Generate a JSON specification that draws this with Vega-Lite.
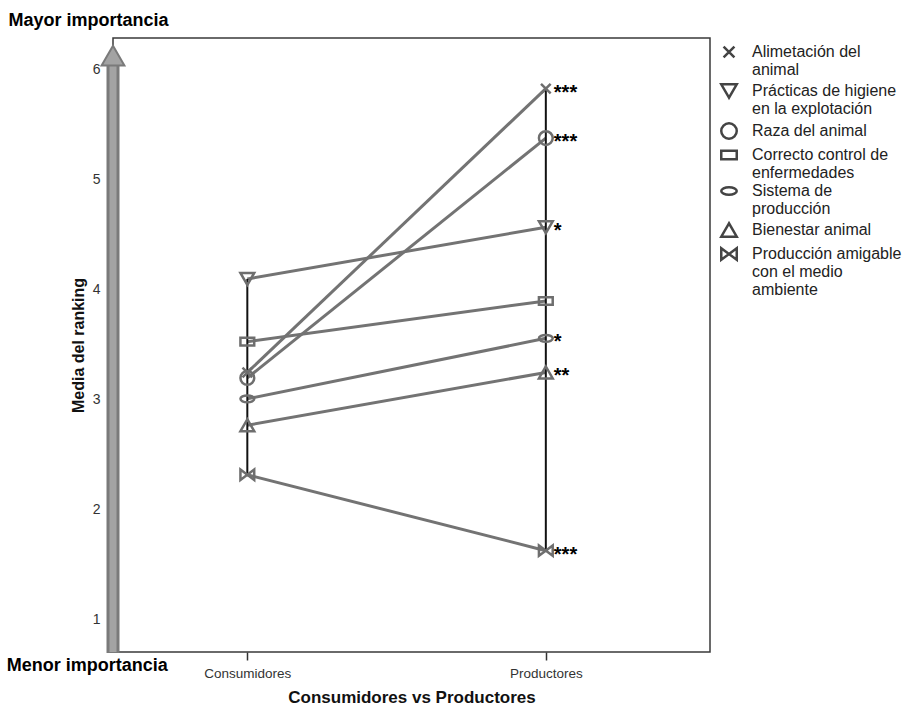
{
  "$schema": "https://vega.github.io/schema/vega-lite/v6.json",
  "width": 597,
  "height": 614,
  "autosize": {"type": "none"},
  "padding": {"left": 113, "top": 38, "right": 211, "bottom": 55},
  "background": "white",
  "config": {
    "font": "Liberation Sans",
    "view": {"stroke": "#3a3a3a", "strokeWidth": 1.5}
  },
  "datasets": {
    "ranking": [
      {"group": "Consumidores", "factor": "Alimetación del animal", "value": 3.25, "sig": ""},
      {"group": "Consumidores", "factor": "Prácticas de higiene en la explotación", "value": 4.1, "sig": ""},
      {"group": "Consumidores", "factor": "Raza del animal", "value": 3.2, "sig": ""},
      {"group": "Consumidores", "factor": "Correcto control de enfermedades", "value": 3.53, "sig": ""},
      {"group": "Consumidores", "factor": "Sistema de producción", "value": 3.01, "sig": ""},
      {"group": "Consumidores", "factor": "Bienestar animal", "value": 2.77, "sig": ""},
      {"group": "Consumidores", "factor": "Producción amigable con el medio ambiente", "value": 2.32, "sig": ""},
      {"group": "Productores", "factor": "Alimetación del animal", "value": 5.83, "sig": "***"},
      {"group": "Productores", "factor": "Prácticas de higiene en la explotación", "value": 4.57, "sig": "*"},
      {"group": "Productores", "factor": "Raza del animal", "value": 5.38, "sig": "***"},
      {"group": "Productores", "factor": "Correcto control de enfermedades", "value": 3.9, "sig": ""},
      {"group": "Productores", "factor": "Sistema de producción", "value": 3.56, "sig": "*"},
      {"group": "Productores", "factor": "Bienestar animal", "value": 3.25, "sig": "**"},
      {"group": "Productores", "factor": "Producción amigable con el medio ambiente", "value": 1.63, "sig": "***"}
    ]
  },
  "layer": [
    {
      "data": {"name": "ranking"},
      "encoding": {
        "x": {
          "field": "group",
          "type": "nominal",
          "sort": ["Consumidores", "Productores"],
          "scale": {"type": "point", "domain": ["Consumidores", "Productores"], "paddingOuter": 0.5, "align": 0.45},
          "axis": {
            "title": "Consumidores vs Productores",
            "titleFontSize": 17,
            "titleFontWeight": "bold",
            "titleColor": "#111",
            "titlePadding": 10,
            "labelAngle": 0,
            "labelFontSize": 13.5,
            "labelColor": "#333",
            "labelPadding": 6,
            "tickSize": 8,
            "tickColor": "#333",
            "tickWidth": 1.5,
            "domain": false,
            "grid": false
          }
        },
        "y": {
          "field": "value",
          "type": "quantitative",
          "scale": {"domain": [0.709, 6.29], "nice": false, "zero": false},
          "axis": {
            "title": "Media del ranking",
            "titleFontSize": 16,
            "titleFontWeight": "bold",
            "titleColor": "#111",
            "titlePadding": 6,
            "values": [1, 2, 3, 4, 5, 6],
            "format": "d",
            "labelFontSize": 14,
            "labelColor": "#333",
            "labelPadding": 10,
            "tickSize": 3,
            "tickColor": "#666",
            "domain": false,
            "grid": false
          }
        }
      },
      "layer": [
        {
          "mark": {"type": "line", "color": "#737373", "strokeWidth": 3},
          "encoding": {"detail": {"field": "factor"}}
        },
        {
          "mark": {"type": "rule", "color": "#111", "strokeWidth": 2},
          "encoding": {
            "y": {"aggregate": "min", "field": "value", "type": "quantitative", "scale": {"domain": [0.709, 6.29], "nice": false, "zero": false}},
            "y2": {"aggregate": "max", "field": "value"}
          }
        },
        {
          "mark": {"type": "point", "filled": false, "color": "#6e6e6e", "strokeWidth": 2.5, "size": 190, "opacity": 1},
          "encoding": {
            "shape": {
              "field": "factor",
              "type": "nominal",
              "scale": {
                "domain": [
                  "Alimetación del animal",
                  "Prácticas de higiene en la explotación",
                  "Raza del animal",
                  "Correcto control de enfermedades",
                  "Sistema de producción",
                  "Bienestar animal",
                  "Producción amigable con el medio ambiente"
                ],
                "range": [
                  "M-0.7,-0.7L0.7,0.7M-0.7,0.7L0.7,-0.7",
                  "triangle-down",
                  "circle",
                  "M-1,-0.55H1V0.55H-1Z",
                  "M-1,0A1,0.5 0 1,0 1,0A1,0.5 0 1,0 -1,0Z",
                  "triangle-up",
                  "M-1,-0.75L1,0.75V-0.75L-1,0.75Z"
                ]
              },
              "legend": {
                "title": null,
                "orient": "none",
                "legendX": 607,
                "legendY": 5,
                "labelFont": "Liberation Sans",
                "labelFontSize": 16,
                "labelColor": "#222",
                "labelLimit": 300,
                "labelOffset": 14,
                "rowPadding": 1,
                "symbolSize": 240,
                "symbolStrokeWidth": 2.5,
                "symbolStrokeColor": "#444",
                "symbolFillColor": "transparent",
                "labelExpr": "datum.label == 'Alimetación del animal' ? ['Alimetación del', 'animal'] : datum.label == 'Prácticas de higiene en la explotación' ? ['Prácticas de higiene', 'en la explotación'] : datum.label == 'Correcto control de enfermedades' ? ['Correcto control de', 'enfermedades'] : datum.label == 'Sistema de producción' ? ['Sistema de', 'producción'] : datum.label == 'Producción amigable con el medio ambiente' ? ['Producción amigable', 'con el medio', 'ambiente'] : datum.label"
              }
            }
          }
        },
        {
          "transform": [{"filter": "datum.sig != ''"}],
          "mark": {"type": "text", "align": "left", "baseline": "middle", "dx": 8, "dy": 4, "fontSize": 20, "fontWeight": "bold", "color": "#000"},
          "encoding": {"text": {"field": "sig"}}
        }
      ]
    },
    {
      "data": {"values": [{"top": "Mayor importancia", "bottom": "Menor importancia"}]},
      "encoding": {
        "x": {"datum": 0, "type": "quantitative", "scale": {"domain": [0, 1]}, "axis": null}
      },
      "layer": [
        {
          "mark": {"type": "rule", "color": "#7a7a7a", "strokeWidth": 13},
          "encoding": {
            "y": {"datum": 0.7, "type": "quantitative", "scale": {"domain": [0.709, 6.29], "nice": false, "zero": false}, "axis": null},
            "y2": {"datum": 6.06}
          }
        },
        {
          "mark": {"type": "rule", "color": "#a3a3a3", "strokeWidth": 7},
          "encoding": {
            "y": {"datum": 0.71, "type": "quantitative", "scale": {"domain": [0.709, 6.29], "nice": false, "zero": false}, "axis": null},
            "y2": {"datum": 6.06}
          }
        },
        {
          "mark": {"type": "point", "shape": "triangle-up", "filled": true, "fill": "#a3a3a3", "stroke": "#7a7a7a", "strokeWidth": 2, "size": 520, "opacity": 1},
          "encoding": {
            "y": {"datum": 6.13, "type": "quantitative", "scale": {"domain": [0.709, 6.29], "nice": false, "zero": false}, "axis": null}
          }
        },
        {
          "mark": {"type": "text", "align": "left", "baseline": "middle", "fontSize": 18, "fontWeight": "bold", "color": "#000"},
          "encoding": {
            "x": {"datum": -0.175, "type": "quantitative", "scale": {"domain": [0, 1]}, "axis": null},
            "y": {"datum": 6.445, "type": "quantitative", "scale": {"domain": [0.709, 6.29], "nice": false, "zero": false}, "axis": null},
            "text": {"field": "top"}
          }
        },
        {
          "mark": {"type": "text", "align": "left", "baseline": "middle", "fontSize": 18, "fontWeight": "bold", "color": "#000"},
          "encoding": {
            "x": {"datum": -0.178, "type": "quantitative", "scale": {"domain": [0, 1]}, "axis": null},
            "y": {"datum": 0.582, "type": "quantitative", "scale": {"domain": [0.709, 6.29], "nice": false, "zero": false}, "axis": null},
            "text": {"field": "bottom"}
          }
        }
      ]
    }
  ],
  "resolve": {"scale": {"x": "independent"}, "axis": {"x": "independent", "y": "independent"}}
}
